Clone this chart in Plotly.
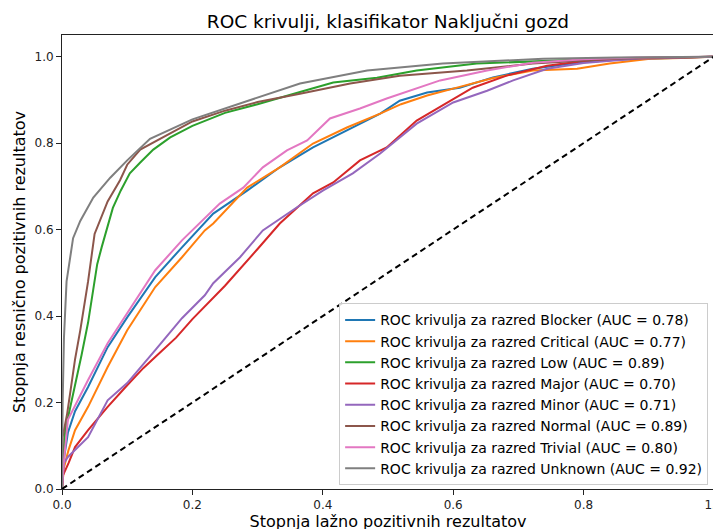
import plotly.graph_objects as go

# ---- data ----
class_names = ["Blocker", "Critical", "Low", "Major", "Minor", "Normal", "Trivial", "Unknown"]
auc_values = [0.78, 0.77, 0.89, 0.70, 0.71, 0.89, 0.80, 0.92]

fpr_blocker = [0, 0.002, 0.009, 0.02, 0.04, 0.07, 0.1, 0.143, 0.184, 0.215, 0.232, 0.284, 0.334, 0.385, 0.437, 0.488, 0.518, 0.56, 0.61, 0.661, 0.722, 0.79, 0.85, 0.92, 1.0]
tpr_blocker = [0, 0.06, 0.13, 0.18, 0.236, 0.328, 0.397, 0.49, 0.559, 0.61, 0.637, 0.69, 0.744, 0.79, 0.829, 0.868, 0.898, 0.917, 0.928, 0.952, 0.972, 0.986, 0.993, 0.997, 1.0]

fpr_critical = [0, 0.003, 0.01, 0.02, 0.04, 0.07, 0.1, 0.143, 0.184, 0.219, 0.232, 0.284, 0.334, 0.385, 0.437, 0.488, 0.52, 0.56, 0.61, 0.66, 0.722, 0.79, 0.84, 0.87, 0.902, 0.95, 1.0]
tpr_critical = [0, 0.05, 0.09, 0.136, 0.19, 0.282, 0.367, 0.467, 0.536, 0.598, 0.614, 0.697, 0.744, 0.799, 0.836, 0.868, 0.89, 0.91, 0.93, 0.95, 0.968, 0.972, 0.984, 0.99, 0.995, 0.997, 1.0]

fpr_low = [0, 0.002, 0.005, 0.01, 0.02, 0.03, 0.04, 0.054, 0.061, 0.078, 0.09, 0.104, 0.12, 0.14, 0.166, 0.2, 0.25, 0.3, 0.365, 0.416, 0.483, 0.544, 0.636, 0.744, 0.85, 1.0]
tpr_low = [0, 0.08, 0.136, 0.17, 0.24, 0.31, 0.385, 0.52, 0.56, 0.65, 0.69, 0.73, 0.755, 0.785, 0.813, 0.84, 0.87, 0.89, 0.918, 0.94, 0.951, 0.968, 0.984, 0.99, 0.996, 1.0]

fpr_major = [0, 0.001, 0.01, 0.02, 0.04, 0.07, 0.1, 0.125, 0.15, 0.175, 0.2, 0.25, 0.3, 0.334, 0.385, 0.416, 0.457, 0.498, 0.544, 0.584, 0.63, 0.682, 0.744, 0.8, 0.87, 1.0]
tpr_major = [0, 0.03, 0.06, 0.097, 0.136, 0.19, 0.24, 0.28, 0.315, 0.35, 0.393, 0.47, 0.555, 0.614, 0.684, 0.709, 0.76, 0.79, 0.852, 0.887, 0.928, 0.956, 0.979, 0.99, 0.996, 1.0]

fpr_minor = [0, 0.003, 0.009, 0.02, 0.04, 0.07, 0.1, 0.143, 0.184, 0.219, 0.232, 0.273, 0.308, 0.36, 0.4, 0.446, 0.488, 0.544, 0.6, 0.652, 0.692, 0.744, 0.8, 0.88, 1.0]
tpr_minor = [0, 0.06, 0.074, 0.09, 0.12, 0.205, 0.245, 0.321, 0.395, 0.448, 0.476, 0.536, 0.598, 0.651, 0.69, 0.73, 0.776, 0.845, 0.894, 0.921, 0.945, 0.972, 0.985, 0.995, 1.0]

fpr_normal = [0, 0.001, 0.008, 0.02, 0.028, 0.04, 0.05, 0.07, 0.089, 0.1, 0.12, 0.15, 0.2, 0.25, 0.3, 0.365, 0.442, 0.518, 0.621, 0.722, 0.85, 1.0]
tpr_normal = [0, 0.12, 0.175, 0.3, 0.367, 0.48, 0.59, 0.665, 0.714, 0.75, 0.785, 0.81, 0.85, 0.875, 0.895, 0.914, 0.938, 0.956, 0.968, 0.984, 0.995, 1.0]

fpr_trivial = [0, 0.002, 0.009, 0.04, 0.07, 0.1, 0.143, 0.184, 0.215, 0.242, 0.278, 0.308, 0.345, 0.376, 0.411, 0.457, 0.498, 0.58, 0.652, 0.722, 0.8, 0.88, 1.0]
tpr_trivial = [0, 0.05, 0.16, 0.252, 0.337, 0.406, 0.506, 0.575, 0.621, 0.66, 0.697, 0.744, 0.783, 0.806, 0.857, 0.88, 0.903, 0.945, 0.968, 0.986, 0.994, 0.998, 1.0]

fpr_unknown = [0, 0.001, 0.003, 0.007, 0.017, 0.028, 0.048, 0.074, 0.1, 0.135, 0.2, 0.25, 0.3, 0.365, 0.468, 0.584, 0.738, 0.85, 1.0]
tpr_unknown = [0, 0.2, 0.35, 0.48, 0.58, 0.62, 0.674, 0.72, 0.76, 0.81, 0.855, 0.88, 0.905, 0.938, 0.968, 0.984, 0.995, 0.998, 1.0]

diag_x = [0, 1]
diag_y = [0, 1]

tick_vals = [0.0, 0.2, 0.4, 0.6, 0.8, 1.0]
tick_text = ["0.0", "0.2", "0.4", "0.6", "0.8", "1.0"]

colors = ["#1f77b4", "#ff7f0e", "#2ca02c", "#d62728", "#9467bd", "#8c564b", "#e377c2", "#7f7f7f"]

curves = [
    (fpr_blocker, tpr_blocker),
    (fpr_critical, tpr_critical),
    (fpr_low, tpr_low),
    (fpr_major, tpr_major),
    (fpr_minor, tpr_minor),
    (fpr_normal, tpr_normal),
    (fpr_trivial, tpr_trivial),
    (fpr_unknown, tpr_unknown),
]

FONT = "DejaVu Sans"

fig = go.Figure()
for (fx, ty), name, auc, col in zip(curves, class_names, auc_values, colors):
    fig.add_trace(go.Scatter(
        x=fx, y=ty, mode="lines",
        name=f"ROC krivulja za razred {name} (AUC = {auc:.2f})",
        line=dict(color=col, width=2),
    ))

fig.add_trace(go.Scatter(
    x=diag_x, y=diag_y, mode="lines", showlegend=False,
    line=dict(color="black", width=2, dash="6px,4px"),
))

axis_common = dict(
    showgrid=False, zeroline=False, showline=True, mirror=True,
    linecolor="#222222", linewidth=1,
    ticks="outside", ticklen=5, tickwidth=1, tickcolor="#222222",
    tickfont=dict(family=FONT, size=12, color="#222222"),
    tickvals=tick_vals, ticktext=tick_text,
    automargin=False, ticklabeloverflow="allow",
)

# the page body adds an 8px offset; margins compensate so the plot area
# lands where the reference has it
fig.update_layout(
    width=721, height=529,
    margin=dict(l=54, r=15, t=27, b=48),
    paper_bgcolor="white", plot_bgcolor="white",
    font=dict(family=FONT, color="black"),
    title=dict(
        text="ROC krivulji, klasifikator Naključni gozd",
        font=dict(family=FONT, size=18.5, color="black"),
        x=0.527, xanchor="center", y=0.986, yanchor="top",
        automargin=False,
    ),
    xaxis=dict(
        range=[0, 1],
        title=dict(text="Stopnja lažno pozitivnih rezultatov",
                   font=dict(family=FONT, size=16, color="black"), standoff=4),
        **axis_common,
    ),
    yaxis=dict(
        range=[0, 1.05],
        title=dict(text="Stopnja resnično pozitivnih rezultatov",
                   font=dict(family=FONT, size=16, color="black"), standoff=4),
        **axis_common,
    ),
    legend=dict(
        x=0.991, y=0.008, xanchor="right", yanchor="bottom",
        bgcolor="rgba(255,255,255,0.85)", bordercolor="#cccccc", borderwidth=1,
        font=dict(family=FONT, size=14, color="black"),
    ),
)

fig.write_html("out.html")
